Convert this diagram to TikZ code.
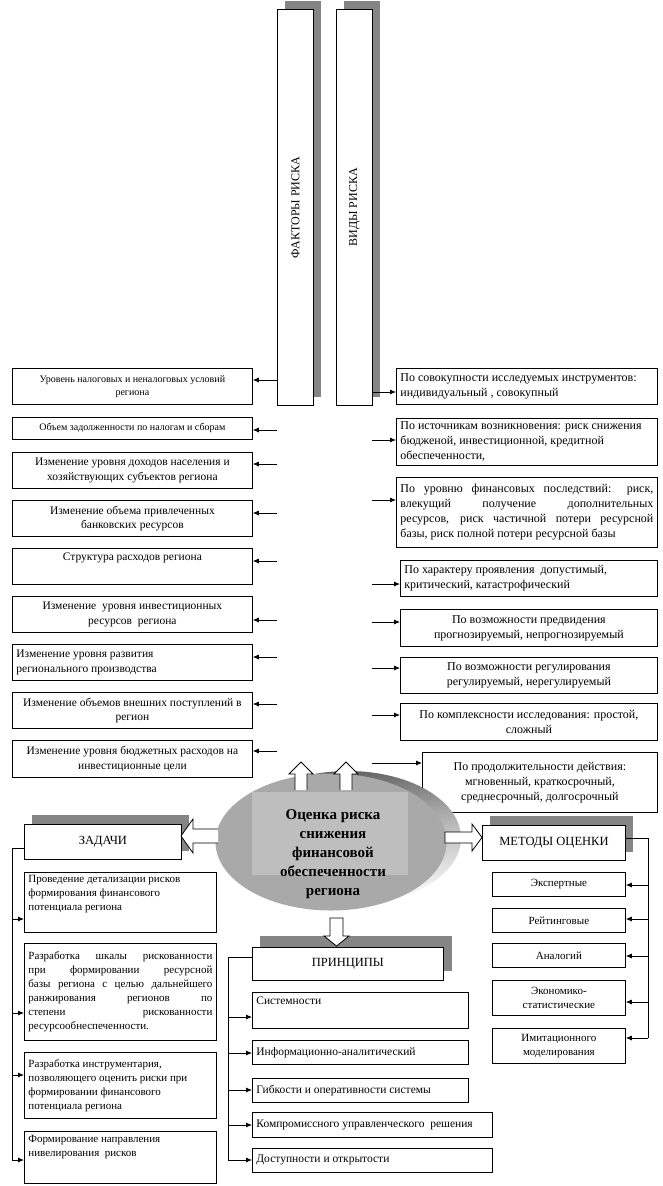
\documentclass[tikz,border=0pt]{standalone}
\usepackage{fontspec}
\setmainfont{Liberation Serif}
\usepackage{graphicx}
\usetikzlibrary{shapes.geometric,arrows.meta,calc}
\definecolor{shadowgray}{HTML}{858585}
\definecolor{ellgray}{HTML}{A9A9A9}
\definecolor{rectgray}{HTML}{BEBEBE}
\newcommand\fS{\fontsize{10}{12.5}\selectfont}
\newcommand\fM{\fontsize{11.5}{14.5}\selectfont}
\newcommand\fT{\fontsize{11}{14}\selectfont}
\newcommand\fR{\fontsize{12}{15}\selectfont}
\newcommand\fH{\fontsize{12.5}{15}\selectfont}
% name, x, y, w, h, vpos, content
\newcommand\bx[7]{\node[box] (#1) at (#2,#3) {\parbox[c][#5pt][#6]{\dimexpr #4pt-8pt\relax}{\hyphenpenalty=10000 #7}};}
\begin{document}
\begin{tikzpicture}[x=1pt,y=-1pt,
  box/.style={draw=black, fill=white, line width=0.8pt, inner xsep=4pt, inner ysep=0pt, anchor=north west},
  arr/.style={line width=0.8pt, -{Latex[length=6pt,width=5pt]}},
  conn/.style={line width=0.8pt},
  hollow/.style={draw=black, line width=0.8pt},
  shadowbox/.style={fill=shadowgray}
]
\fill[white] (0,0) rectangle (662,1186);
\useasboundingbox (0,0) rectangle (662,1186);

% ---------- tall boxes ----------
\fill[shadowbox] (285,1) rectangle (321,397);
\fill[shadowbox] (344,1) rectangle (380,397);
\bx{FR}{277}{9}{36}{396}{c}{\centering\rotatebox{90}{\fR ФАКТОРЫ РИСКА}}
\bx{VR}{336}{9}{36}{396}{c}{\centering\rotatebox{90}{\fR ВИДЫ РИСКА}}

% ---------- factor boxes ----------
\bx{F1}{12}{368}{240}{36}{c}{\fS\centering Уровень налоговых и неналоговых условий\\региона}
\bx{F2}{12}{417}{240}{22}{c}{\fS\centering Объем задолженности по налогам и сборам}
\bx{F3}{12}{452}{240}{36}{c}{\fM\centering Изменение уровня доходов населения и\\хозяйствующих субъектов региона}
\bx{F4}{12}{500}{240}{36}{c}{\fM\centering Изменение объема привлеченных\\банковских ресурсов}
\bx{F5}{12}{548}{240}{36}{t}{\vspace*{4pt}\fM\centering Структура расходов региона}
\bx{F6}{12}{596}{240}{36}{c}{\fM\centering Изменение \ уровня инвестиционных\\ресурсов \ региона}
\bx{F7}{12}{644}{240}{36}{c}{\fM\raggedright Изменение уровня развития\\регионального производства}
\bx{F8}{12}{692}{240}{36}{c}{\fM\centering Изменение объемов внешних поступлений в\\регион}
\bx{F9}{12}{740}{240}{37}{c}{\fM\centering Изменение уровня бюджетных расходов на\\инвестиционные цели}

% ---------- kinds boxes ----------
\bx{R1}{396}{368}{261}{36}{c}{\fR\raggedright По совокупности исследуемых инструментов:\\индивидуальный , совокупный}
\bx{R2}{396}{418}{261}{47}{c}{\fR\raggedright По источникам возникновения: риск снижения\\бюдженой, инвестиционной, кредитной\\обеспеченности,}
\bx{R3}{396}{477}{261}{70}{c}{\fR По уровню финансовых последствий: риск,\linebreak влекущий получение дополнительных\linebreak ресурсов, риск частичной потери ресурсной\linebreak базы, риск полной потери ресурсной базы}
\bx{R4}{400}{560}{257}{36}{c}{\fR\raggedright По характеру проявления \ допустимый,\\критический, катастрофический}
\bx{R5}{400}{609}{257}{37}{c}{\fR\centering По возможности предвидения\\прогнозируемый, непрогнозируемый}
\bx{R6}{400}{657}{257}{36}{c}{\fR\centering По возможности регулирования\\регулируемый, нерегулируемый}
\bx{R7}{400}{703}{257}{37}{c}{\fR\centering По комплексности исследования: простой,\\сложный}
\bx{R8}{422}{752}{235}{60}{c}{\fR\centering По продолжительности действия:\\мгновенный, краткосрочный,\\среднесрочный, долгосрочный}

% ---------- factor arrows ----------
\coordinate (fa1) at (277,380);
\coordinate (fa2) at (277,430);
\coordinate (fa3) at (277,464);
\coordinate (fa4) at (277,513);
\coordinate (fa5) at (277,561);
\coordinate (fa6) at (277,620);
\coordinate (fa7) at (277,657);
\coordinate (fa8) at (277,704);
\coordinate (fa9) at (277,751);
\draw[arr] (FR.west |- fa1) -- (fa1 -| F1.east);
\foreach \i in {2,...,9}{\draw[arr] (fa\i) -- (fa\i -| F\i.east);}

% ---------- kinds arrows ----------
\coordinate (ra1) at (372,392);
\coordinate (ra2) at (372,440);
\coordinate (ra3) at (372,500);
\coordinate (ra4) at (372,584);
\coordinate (ra5) at (372,622);
\coordinate (ra6) at (372,668);
\coordinate (ra7) at (372,715);
\coordinate (ra8) at (372,763);
\draw[arr] (VR.east |- ra1) -- (ra1 -| R1.west);
\foreach \i in {2,...,8}{\draw[arr] (ra\i) -- (ra\i -| R\i.west);}

% ---------- central ellipse ----------
\shade[top color=gray!70!black, bottom color=white, middle color=gray!55, shading angle=8] (348,838) ellipse [x radius=113pt, y radius=67pt];
\node[ellipse, fill=ellgray, minimum width=231pt, minimum height=137pt, inner sep=0pt] (core) at (331,842) {};
\fill[rectgray] (252,792) rectangle (408,875);
\node[font=\fontsize{15}{19}\selectfont\bfseries, align=center, inner sep=0pt] (coretext) at (333,854) {Оценка риска\\снижения\\финансовой\\обеспеченности\\региона};

% hollow arrows up
\fill[white] (295,790) -- (295,774) -- (289,774) -- (301,762) -- (313,774) -- (307,774) -- (307,790) -- cycle;
\draw[hollow] (295,790) -- (295,774) -- (289,774) -- (301,762) -- (313,774) -- (307,774) -- (307,790);
\fill[white] (340,790) -- (340,774) -- (334,774) -- (346,762) -- (358,774) -- (352,774) -- (352,790) -- cycle;
\draw[hollow] (340,790) -- (340,774) -- (334,774) -- (346,762) -- (358,774) -- (352,774) -- (352,790);

% ---------- header boxes ----------
\fill[shadowbox] (32,815) rectangle (189,851);
\bx{ZD}{24}{824}{157}{35}{c}{\fH\centering ЗАДАЧИ}
\fill[shadowbox] (490,816) rectangle (633,852);
\bx{MO}{482}{825}{143}{35}{c}{\fH\centering МЕТОДЫ ОЦЕНКИ}
\fill[shadowbox] (260,936) rectangle (452,971);
\bx{PR}{252}{947}{191}{33}{c}{\fH\centering ПРИНЦИПЫ}

% hollow arrow left (to ЗАДАЧИ)
\draw[hollow, fill=white] (218,829) -- (193,829) -- (193,819) -- (181,836) -- (193,853) -- (193,843) -- (218,843);
% hollow arrow right (to МЕТОДЫ)
\draw[hollow, fill=white] (445,832) -- (472,832) -- (472,824) -- (482,837.5) -- (472,851) -- (472,843) -- (445,843) -- cycle;
% hollow arrow down (to ПРИНЦИПЫ)
\draw[hollow, fill=white] (330,918) -- (343,918) -- (343,936) -- (349,936) -- (336.5,946) -- (324,936) -- (330,936) -- cycle;

% ---------- tasks ----------
\bx{T1}{24}{872}{192}{60}{t}{\vspace*{3pt}\fT\raggedright Проведение детализации рисков\\формирования финансового\\потенциала региона}
\bx{T2}{24}{943}{192}{97}{c}{\fT Разработка шкалы рискованности\linebreak при формировании ресурсной\linebreak базы региона с целью дальнейшего\linebreak ранжирования регионов по\linebreak степени рискованности\linebreak ресурсообнеспеченности.}
\bx{T3}{24}{1052}{192}{66}{c}{\fT\raggedright Разработка инструментария,\\позволяющего оценить риски при\\формировании финансового\\потенциала региона}
\bx{T4}{24}{1131}{192}{52}{t}{\vspace*{4pt}\fT\raggedright Формирование направления\\нивелирования \ рисков}

\coordinate (zl) at (12,848);
\coordinate (zb) at (12,1160);
\draw[conn] (ZD.west |- zl) -- (zl) -- (zb);
\coordinate (za1) at (12,919);
\coordinate (za2) at (12,1013);
\coordinate (za3) at (12,1075);
\coordinate (za4) at (12,1160);
\foreach \i in {1,...,4}{\draw[arr] (za\i) -- (za\i -| T\i.west);}

% ---------- principles ----------
\bx{P1}{252}{992}{216}{36}{t}{\vspace*{4pt}\fM\raggedright Системности}
\bx{P2}{252}{1040}{216}{24}{c}{\fM\raggedright Информационно-аналитический}
\bx{P3}{252}{1078}{216}{24}{c}{\fM\raggedright Гибкости и оперативности системы}
\bx{P4}{252}{1112}{240}{25}{c}{\fM\raggedright Компромиссного управленческого \ решения}
\bx{P5}{252}{1148}{240}{24}{c}{\fM\raggedright Доступности и открытости}

\coordinate (pl) at (228,957);
\coordinate (pb) at (228,1160);
\draw[conn] (PR.west |- pl) -- (pl) -- (pb);
\coordinate (pa1) at (228,1017);
\coordinate (pa2) at (228,1053);
\coordinate (pa3) at (228,1090);
\coordinate (pa4) at (228,1125);
\coordinate (pa5) at (228,1160);
\foreach \i in {1,...,5}{\draw[arr] (pa\i) -- (pa\i -| P\i.west);}

% ---------- methods ----------
\bx{M1}{492}{872}{133}{24}{c}{\fT\centering Экспертные}
\bx{M2}{492}{908}{133}{24}{c}{\fT\centering Рейтинговые}
\bx{M3}{492}{943}{133}{24}{c}{\fT\centering Аналогий}
\bx{M4}{492}{980}{133}{35}{c}{\fT\centering Экономико-\\статистические}
\bx{M5}{492}{1028}{133}{35}{c}{\fT\centering Имитационного\\моделирования}

\coordinate (ml) at (648,838);
\coordinate (mb) at (648,1038);
\draw[conn] (MO.east |- ml) -- (ml) -- (mb);
\coordinate (ma1) at (648,885);
\coordinate (ma2) at (648,919);
\coordinate (ma3) at (648,956);
\coordinate (ma4) at (648,1002);
\coordinate (ma5) at (648,1038);
\foreach \i in {1,...,5}{\draw[arr] (ma\i) -- (ma\i -| M\i.east);}
\end{tikzpicture}
\end{document}
